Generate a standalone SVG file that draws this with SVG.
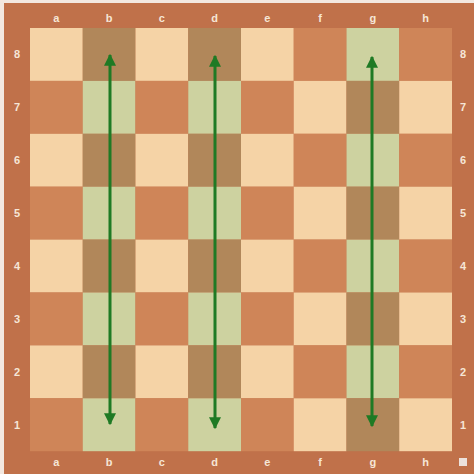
<svg xmlns="http://www.w3.org/2000/svg" width="474" height="474" viewBox="0 0 474 474">
<defs>
<style>
.l{fill:#f5d3a6}
.d{fill:#cf8558}
.gl{fill:#cdd2a0}
.gd{fill:#b1875a}
.lab{font-family:"Liberation Sans",Arial,sans-serif;font-size:11px;font-weight:bold;fill:#f6e6d6;text-anchor:middle}
.arr{stroke:#1f7a24;stroke-width:3;fill:none;marker-start:url(#ah);marker-end:url(#ah)}
</style>
<marker id="ah" viewBox="0 0 10 10" refX="9" refY="5" markerWidth="4" markerHeight="4" orient="auto-start-reverse" markerUnits="strokeWidth">
<path d="M0,0 L10,5 L0,10 z" fill="#1f7a24"/>
</marker>
</defs>
<rect x="0" y="0" width="474" height="474" fill="#f3e8e0"/>
<rect x="4" y="3" width="470" height="471" fill="#c0714a"/>
<g id="board">
<!-- row 8 -->
<rect class="l" x="30" y="28" width="52.75" height="52.9"/>
<rect class="gd" x="82.75" y="28" width="52.75" height="52.9"/>
<rect class="l" x="135.5" y="28" width="52.75" height="52.9"/>
<rect class="gd" x="188.25" y="28" width="52.75" height="52.9"/>
<rect class="l" x="241" y="28" width="52.75" height="52.9"/>
<rect class="d" x="293.75" y="28" width="52.75" height="52.9"/>
<rect class="gl" x="346.5" y="28" width="52.75" height="52.9"/>
<rect class="d" x="399.25" y="28" width="52.75" height="52.9"/>
<!-- row 7 -->
<rect class="d" x="30" y="80.9" width="52.75" height="52.9"/>
<rect class="gl" x="82.75" y="80.9" width="52.75" height="52.9"/>
<rect class="d" x="135.5" y="80.9" width="52.75" height="52.9"/>
<rect class="gl" x="188.25" y="80.9" width="52.75" height="52.9"/>
<rect class="d" x="241" y="80.9" width="52.75" height="52.9"/>
<rect class="l" x="293.75" y="80.9" width="52.75" height="52.9"/>
<rect class="gd" x="346.5" y="80.9" width="52.75" height="52.9"/>
<rect class="l" x="399.25" y="80.9" width="52.75" height="52.9"/>
<!-- row 6 -->
<rect class="l" x="30" y="133.8" width="52.75" height="52.9"/>
<rect class="gd" x="82.75" y="133.8" width="52.75" height="52.9"/>
<rect class="l" x="135.5" y="133.8" width="52.75" height="52.9"/>
<rect class="gd" x="188.25" y="133.8" width="52.75" height="52.9"/>
<rect class="l" x="241" y="133.8" width="52.75" height="52.9"/>
<rect class="d" x="293.75" y="133.8" width="52.75" height="52.9"/>
<rect class="gl" x="346.5" y="133.8" width="52.75" height="52.9"/>
<rect class="d" x="399.25" y="133.8" width="52.75" height="52.9"/>
<!-- row 5 -->
<rect class="d" x="30" y="186.7" width="52.75" height="52.9"/>
<rect class="gl" x="82.75" y="186.7" width="52.75" height="52.9"/>
<rect class="d" x="135.5" y="186.7" width="52.75" height="52.9"/>
<rect class="gl" x="188.25" y="186.7" width="52.75" height="52.9"/>
<rect class="d" x="241" y="186.7" width="52.75" height="52.9"/>
<rect class="l" x="293.75" y="186.7" width="52.75" height="52.9"/>
<rect class="gd" x="346.5" y="186.7" width="52.75" height="52.9"/>
<rect class="l" x="399.25" y="186.7" width="52.75" height="52.9"/>
<!-- row 4 -->
<rect class="l" x="30" y="239.6" width="52.75" height="52.9"/>
<rect class="gd" x="82.75" y="239.6" width="52.75" height="52.9"/>
<rect class="l" x="135.5" y="239.6" width="52.75" height="52.9"/>
<rect class="gd" x="188.25" y="239.6" width="52.75" height="52.9"/>
<rect class="l" x="241" y="239.6" width="52.75" height="52.9"/>
<rect class="d" x="293.75" y="239.6" width="52.75" height="52.9"/>
<rect class="gl" x="346.5" y="239.6" width="52.75" height="52.9"/>
<rect class="d" x="399.25" y="239.6" width="52.75" height="52.9"/>
<!-- row 3 -->
<rect class="d" x="30" y="292.5" width="52.75" height="52.9"/>
<rect class="gl" x="82.75" y="292.5" width="52.75" height="52.9"/>
<rect class="d" x="135.5" y="292.5" width="52.75" height="52.9"/>
<rect class="gl" x="188.25" y="292.5" width="52.75" height="52.9"/>
<rect class="d" x="241" y="292.5" width="52.75" height="52.9"/>
<rect class="l" x="293.75" y="292.5" width="52.75" height="52.9"/>
<rect class="gd" x="346.5" y="292.5" width="52.75" height="52.9"/>
<rect class="l" x="399.25" y="292.5" width="52.75" height="52.9"/>
<!-- row 2 -->
<rect class="l" x="30" y="345.4" width="52.75" height="52.9"/>
<rect class="gd" x="82.75" y="345.4" width="52.75" height="52.9"/>
<rect class="l" x="135.5" y="345.4" width="52.75" height="52.9"/>
<rect class="gd" x="188.25" y="345.4" width="52.75" height="52.9"/>
<rect class="l" x="241" y="345.4" width="52.75" height="52.9"/>
<rect class="d" x="293.75" y="345.4" width="52.75" height="52.9"/>
<rect class="gl" x="346.5" y="345.4" width="52.75" height="52.9"/>
<rect class="d" x="399.25" y="345.4" width="52.75" height="52.9"/>
<!-- row 1 -->
<rect class="d" x="30" y="398.3" width="52.75" height="52.9"/>
<rect class="gl" x="82.75" y="398.3" width="52.75" height="52.9"/>
<rect class="d" x="135.5" y="398.3" width="52.75" height="52.9"/>
<rect class="gl" x="188.25" y="398.3" width="52.75" height="52.9"/>
<rect class="d" x="241" y="398.3" width="52.75" height="52.9"/>
<rect class="l" x="293.75" y="398.3" width="52.75" height="52.9"/>
<rect class="gd" x="346.5" y="398.3" width="52.75" height="52.9"/>
<rect class="l" x="399.25" y="398.3" width="52.75" height="52.9"/>
</g>
<g id="labels">
<text class="lab" x="56.4" y="22">a</text>
<text class="lab" x="109.1" y="22">b</text>
<text class="lab" x="161.9" y="22">c</text>
<text class="lab" x="214.6" y="22">d</text>
<text class="lab" x="267.4" y="22">e</text>
<text class="lab" x="320.1" y="22">f</text>
<text class="lab" x="372.9" y="22">g</text>
<text class="lab" x="425.6" y="22">h</text>
<text class="lab" x="56.4" y="466">a</text>
<text class="lab" x="109.1" y="466">b</text>
<text class="lab" x="161.9" y="466">c</text>
<text class="lab" x="214.6" y="466">d</text>
<text class="lab" x="267.4" y="466">e</text>
<text class="lab" x="320.1" y="466">f</text>
<text class="lab" x="372.9" y="466">g</text>
<text class="lab" x="425.6" y="466">h</text>
<text class="lab" x="17" y="58">8</text>
<text class="lab" x="17" y="111">7</text>
<text class="lab" x="17" y="164">6</text>
<text class="lab" x="17" y="217">5</text>
<text class="lab" x="17" y="270">4</text>
<text class="lab" x="17" y="323">3</text>
<text class="lab" x="17" y="376">2</text>
<text class="lab" x="17" y="429">1</text>
<text class="lab" x="463" y="58">8</text>
<text class="lab" x="463" y="111">7</text>
<text class="lab" x="463" y="164">6</text>
<text class="lab" x="463" y="217">5</text>
<text class="lab" x="463" y="270">4</text>
<text class="lab" x="463" y="323">3</text>
<text class="lab" x="463" y="376">2</text>
<text class="lab" x="463" y="429">1</text>
</g>
<rect x="459" y="458" width="8" height="8" fill="#ece2dc"/>
<g id="connectors">
<line class="arr" x1="110" y1="55" x2="110" y2="424"/>
<line class="arr" x1="215" y1="56" x2="215" y2="428"/>
<line class="arr" x1="372" y1="57" x2="372" y2="426"/>
</g>
</svg>
